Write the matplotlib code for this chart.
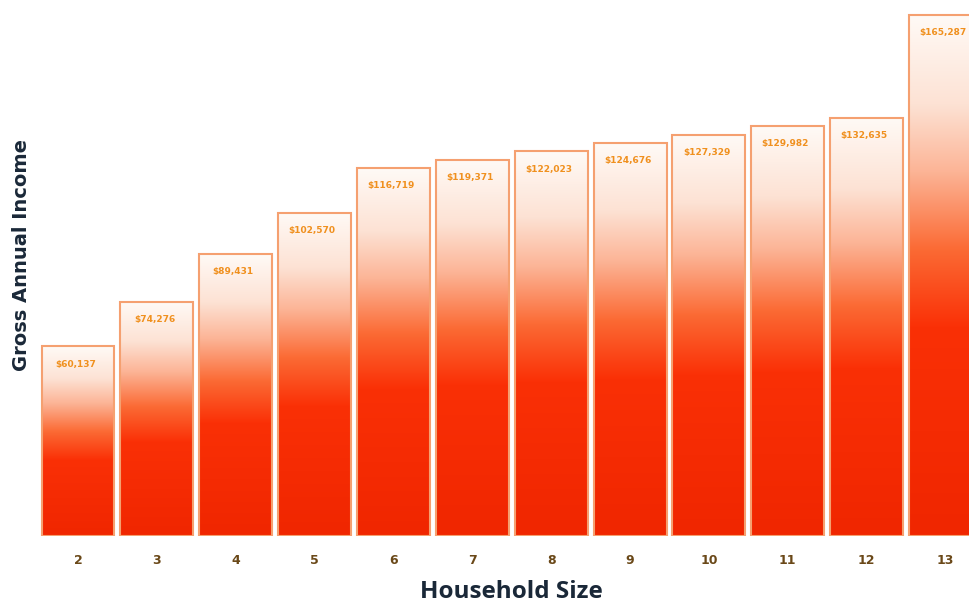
import numpy as np
import matplotlib
matplotlib.use("Agg")
import matplotlib.pyplot as plt
from matplotlib.colors import LinearSegmentedColormap

household_sizes = ["2", "3", "4", "5", "6", "7", "8", "9", "10", "11", "12", "13"]
income = [60137, 74276, 89431, 102570, 116719, 119371, 122023, 124676, 127329, 129982, 132635, 165287]
labels = ["$60,137", "$74,276", "$89,431", "$102,570", "$116,719", "$119,371",
          "$122,023", "$124,676", "$127,329", "$129,982", "$132,635", "$165,287"]

fig = plt.figure(figsize=(9.7, 6.04), dpi=100)
ax = fig.add_axes([38/970, 68/604, 932/970, 536/604])

cmap = LinearSegmentedColormap.from_list("bar", [
    (0.0, "#f02600"), (0.40, "#fa3006"), (0.55, "#fb6a34"),
    (0.70, "#fcb496"), (0.83, "#fde2d4"), (1.0, "#fffaf6")])

grad = np.linspace(0, 1, 256).reshape(-1, 1)
width = 0.925
x = np.arange(len(income))
for xi, v, lab in zip(x, income, labels):
    ax.imshow(grad, cmap=cmap, origin="lower", aspect="auto",
              extent=(xi - width/2, xi + width/2, 0, v), zorder=1, interpolation="bilinear")
    ax.add_patch(plt.Rectangle((xi - width/2, 0), width, v, fill=False,
                               edgecolor="#f5a070", linewidth=1.5, zorder=2))
    ax.text(xi - 0.03, v - 5600, lab, ha="center", va="center", fontsize=6.5,
            fontweight="bold", color="#f0901e", zorder=3)

ax.set_xlim(-0.507, 11.31)
ax.set_ylim(0, 170050)
ax.set_xticks(x)
ax.set_xticklabels(household_sizes, fontsize=9, color="#6a4818", fontweight="bold")
ax.tick_params(axis="x", length=0, pad=13)
ax.set_yticks([])
for s in ax.spines.values():
    s.set_visible(False)

fig.text(511/970, 1 - 592/604, "Household Size", ha="center", va="center",
         fontsize=17.5, fontweight="bold", color="#1a2838", family="Open Sans")
fig.text(22/970, 1 - 255/604, "Gross Annual Income", ha="center", va="center",
         rotation=90, fontsize=14, fontweight="bold", color="#1a2838")

fig.savefig("out.png", dpi=100)
